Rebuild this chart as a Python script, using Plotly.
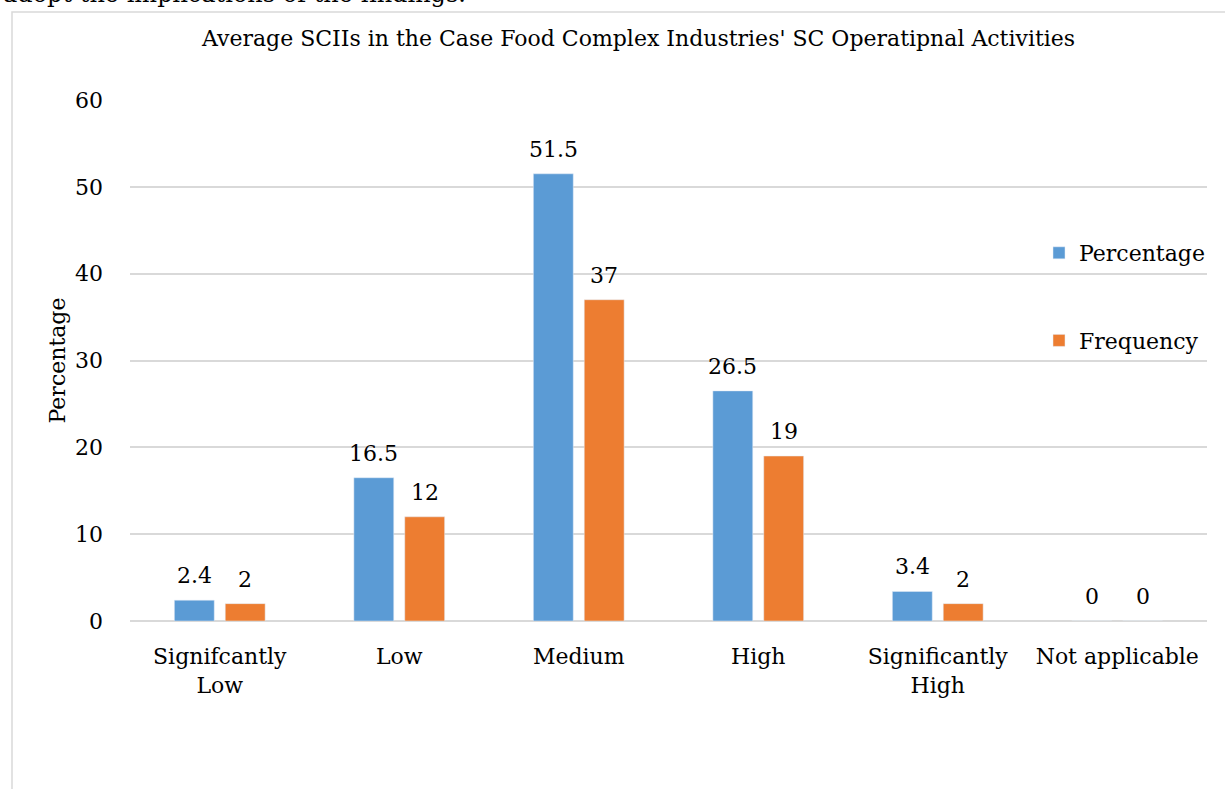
import plotly.graph_objects as go

categories = ["Signifcantly<br>Low", "Low", "Medium", "High", "Significantly<br>High", "Not applicable"]
percentage = [2.4, 16.5, 51.5, 26.5, 3.4, 0]
frequency = [2, 12, 37, 19, 2, 0]
y_ticks = [0, 10, 20, 30, 40, 50, 60]

FONT = "DejaVu Serif"
FS = 22
W, H = 1225, 789
L, R, T, B = 130, 18, 100, 168
pw, ph = W - L - R, H - T - B

def px_x(x):
    return (x - L) / pw

def px_y(y):
    return (H - B - y) / ph

fig = go.Figure()
fig.add_trace(go.Bar(x=categories, y=percentage, name="Percentage",
                     marker_color="#5B9BD5", legendgroup="a"))
fig.add_trace(go.Bar(x=categories, y=frequency, name="Frequency",
                     marker_color="#ED7D31", legendgroup="b"))

annotations = []
for series, shift in ((percentage, -25.5), (frequency, 25.5)):
    for cat, v in zip(categories, series):
        annotations.append(dict(text=f"{v:g}", x=cat, y=v, xref="x", yref="y",
                                xshift=shift, yshift=10, yanchor="bottom", xanchor="center",
                                showarrow=False, font=dict(family=FONT, size=FS, color="#000")))

annotations += [
    dict(text="Average SCIIs in the Case Food Complex Industries' SC Operatipnal Activities",
         xref="paper", yref="paper", x=px_x(638), y=px_y(38), xanchor="center", yanchor="middle",
         showarrow=False, font=dict(family=FONT, size=FS)),
    dict(text="adopt the implications of the findings.",
         xref="paper", yref="paper", x=px_x(1), y=px_y(-6), xanchor="left", yanchor="middle",
         showarrow=False, font=dict(family=FONT, size=24)),
]

fig.update_layout(
    width=W, height=H,
    margin=dict(l=L, r=R, t=T, b=B),
    paper_bgcolor="white", plot_bgcolor="white",
    font=dict(family=FONT, size=FS, color="#000"),
    barmode="group", bargap=0.433, bargroupgap=0.216,
    showlegend=True,
    legend=dict(x=px_x(1039), y=px_y(297), xanchor="left", yanchor="middle",
                traceorder="grouped", tracegroupgap=56,
                font=dict(family=FONT, size=FS), bgcolor="rgba(0,0,0,0)"),
    xaxis=dict(showgrid=False, showline=False, ticks="", ticklabelstandoff=20,
               tickfont=dict(family=FONT, size=FS)),
    yaxis=dict(range=[0, 60], tickvals=y_ticks, showgrid=True, gridcolor="#D9D9D9",
               gridwidth=1.5, zeroline=True, zerolinecolor="#D9D9D9", zerolinewidth=1.5,
               showline=False, ticks="", ticklabelstandoff=26,
               tickfont=dict(family=FONT, size=FS),
               title=dict(text="Percentage", font=dict(family=FONT, size=FS), standoff=3)),
    annotations=annotations,
    shapes=[
        dict(type="rect", xref="paper", yref="paper",
             x0=px_x(12), x1=px_x(1240), y0=px_y(800), y1=px_y(12),
             line=dict(color="#D9D9D9", width=1.5), fillcolor="rgba(0,0,0,0)", layer="below"),
    ],
)

fig.write_html("out.html")
